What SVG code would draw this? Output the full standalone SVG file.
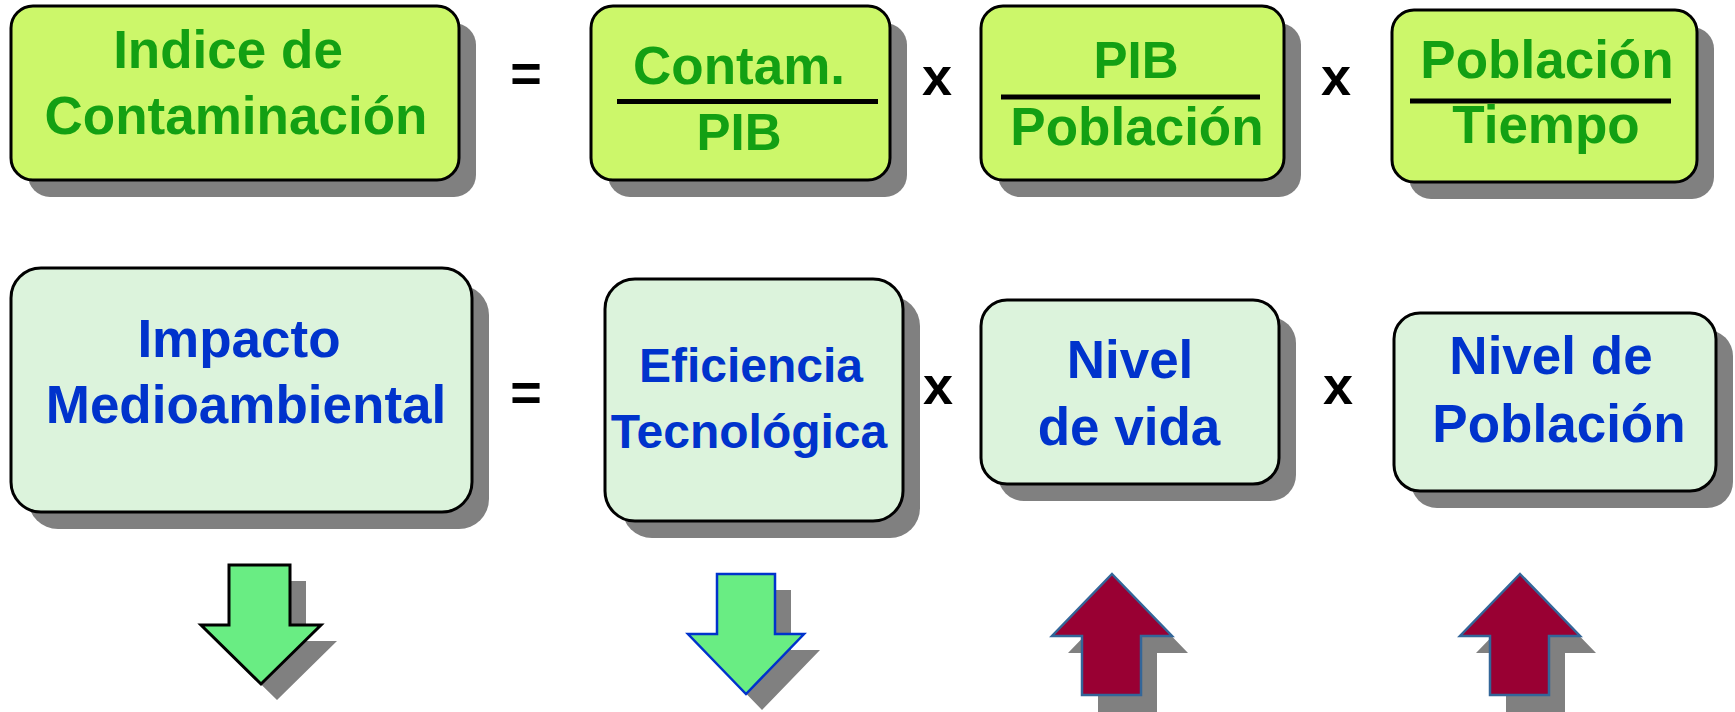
<svg xmlns="http://www.w3.org/2000/svg" width="1735" height="712" viewBox="0 0 1735 712">
<style>
.sh{fill:#808080}
.b1{fill:#CCF76A;stroke:#000;stroke-width:3}
.b2{fill:#DCF3DC;stroke:#000;stroke-width:3}
.g{font-family:"Liberation Sans",Arial,sans-serif;font-weight:bold;font-size:53px;fill:#13A013;text-anchor:middle}
.bl{font-family:"Liberation Sans",Arial,sans-serif;font-weight:bold;font-size:53px;fill:#0033CC;text-anchor:middle}
.op{font-family:"Liberation Sans",Arial,sans-serif;font-weight:bold;font-size:54px;fill:#000;text-anchor:middle}
.fl{stroke:#000;stroke-width:5}
</style>
<rect width="1735" height="712" fill="#fff"/>

<g id="n-indice">
<rect class="sh" x="28" y="23" width="448" height="174" rx="22"/>
<rect class="b1" x="11" y="6" width="448" height="174" rx="22"/>
<text class="g" x="228" y="68">Indice de</text>
<text class="g" x="236" y="134">Contaminación</text>
</g>
<text class="op" x="526" y="92">=</text>

<g id="n-contam">
<rect class="sh" x="608" y="23" width="299" height="174" rx="22"/>
<rect class="b1" x="591" y="6" width="299" height="174" rx="22"/>
<text class="g" x="739" y="84">Contam.</text>
<line class="fl" x1="617" y1="101.5" x2="878" y2="101.5"/>
<text class="g" x="739" y="150" style="font-size:51px">PIB</text>
</g>
<text class="op" x="937" y="95">x</text>

<g id="n-pib">
<rect class="sh" x="998" y="23" width="303" height="174" rx="22"/>
<rect class="b1" x="981" y="6" width="303" height="174" rx="22"/>
<text class="g" x="1136" y="78" style="font-size:51px">PIB</text>
<line class="fl" x1="1001" y1="97" x2="1260" y2="97"/>
<text class="g" x="1137" y="145">Población</text>
</g>
<text class="op" x="1336" y="95">x</text>

<g id="n-poblacion">
<rect class="sh" x="1409" y="27" width="305" height="172" rx="22"/>
<rect class="b1" x="1392" y="10" width="305" height="172" rx="22"/>
<text class="g" x="1547" y="78">Población</text>
<line class="fl" x1="1410" y1="101" x2="1671" y2="101"/>
<text class="g" x="1546" y="143">Tiempo</text>
</g>

<g id="n-impacto">
<rect class="sh" x="28" y="285" width="461" height="244" rx="30"/>
<rect class="b2" x="11" y="268" width="461" height="244" rx="30"/>
<text class="bl" x="239" y="357">Impacto</text>
<text class="bl" x="246" y="423">Medioambiental</text>
</g>
<text class="op" x="526" y="411">=</text>

<g id="n-eficiencia">
<rect class="sh" x="622" y="296" width="298" height="242" rx="30"/>
<rect class="b2" x="605" y="279" width="298" height="242" rx="30"/>
<text class="bl" x="751" y="382" style="font-size:48px">Eficiencia</text>
<text class="bl" x="749" y="448" style="font-size:48px">Tecnológica</text>
</g>
<text class="op" x="938" y="404">x</text>

<g id="n-nivelvida">
<rect class="sh" x="998" y="317" width="298" height="184" rx="26"/>
<rect class="b2" x="981" y="300" width="298" height="184" rx="26"/>
<text class="bl" x="1130" y="378">Nivel</text>
<text class="bl" x="1129" y="445">de vida</text>
</g>
<text class="op" x="1338" y="404">x</text>

<g id="n-nivelpoblacion">
<rect class="sh" x="1411" y="330" width="322" height="178" rx="26"/>
<rect class="b2" x="1394" y="313" width="322" height="178" rx="26"/>
<text class="bl" x="1551" y="374">Nivel de</text>
<text class="bl" x="1559" y="442">Población</text>
</g>

<g id="connectors">
<g id="arrow-impacto">
<polygon class="sh" transform="translate(16,16)" points="229,565 290,565 290,625 321,625 261,684 201,625 229,625"/>
<polygon points="229,565 290,565 290,625 321,625 261,684 201,625 229,625" fill="#69ED83" stroke="#000" stroke-width="3"/>
</g>
<g id="arrow-eficiencia">
<polygon class="sh" transform="translate(16,16)" points="717,574 775,574 775,634 804,634 746,694 688,634 717,634"/>
<polygon points="717,574 775,574 775,634 804,634 746,694 688,634 717,634" fill="#69ED83" stroke="#0033CC" stroke-width="2.5"/>
</g>
<g id="arrow-vida">
<polygon class="sh" transform="translate(16,17)" points="1112,574 1172,636 1141,636 1141,695 1082,695 1082,636 1052,636"/>
<polygon points="1112,574 1172,636 1141,636 1141,695 1082,695 1082,636 1052,636" fill="#990033" stroke="#336699" stroke-width="2.5"/>
</g>
<g id="arrow-poblacion">
<polygon class="sh" transform="translate(16,17)" points="1520,574 1580,636 1549,636 1549,695 1490,695 1490,636 1460,636"/>
<polygon points="1520,574 1580,636 1549,636 1549,695 1490,695 1490,636 1460,636" fill="#990033" stroke="#336699" stroke-width="2.5"/>
</g>
</g>
</svg>
